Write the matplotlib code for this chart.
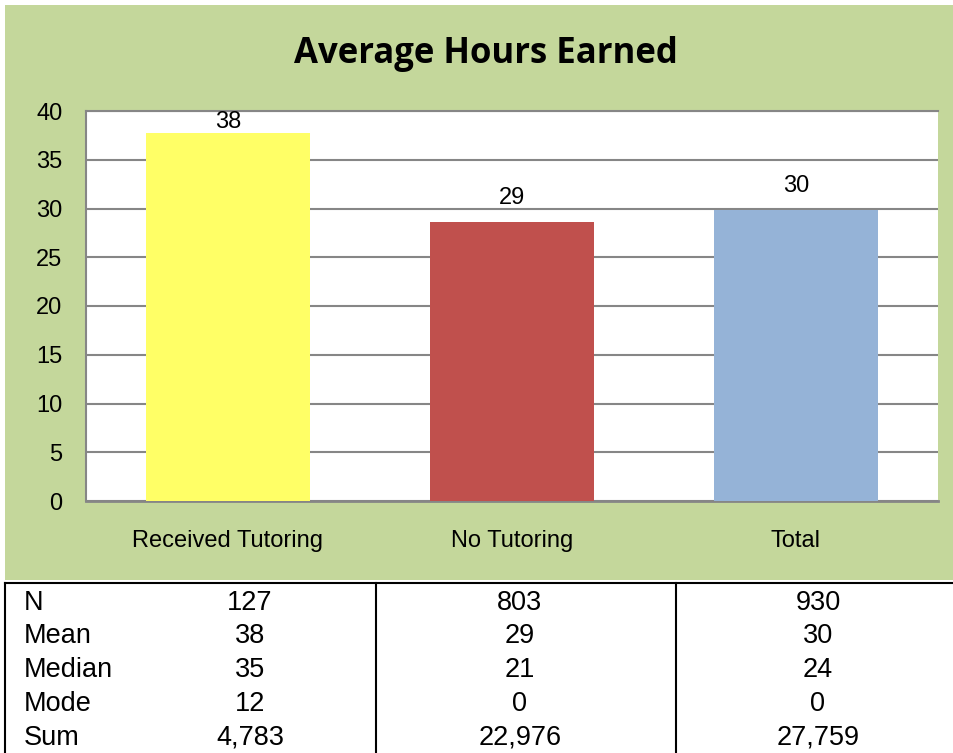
import numpy as np
import matplotlib.pyplot as plt
from matplotlib.patches import Rectangle

groups = ["Received Tutoring", "No Tutoring", "Total"]
means = [37.7, 28.6, 29.8]
mean_labels = ["38", "29", "30"]
bar_colors = ["#FFFF66", "#C0504D", "#95B3D7"]

row_names = ["N", "Mean", "Median", "Mode", "Sum"]
col_received = ["127", "38", "35", "12", "4,783"]
col_none = ["803", "29", "21", "0", "22,976"]
col_total = ["930", "30", "24", "0", "27,759"]

W, H = 954, 753
fig = plt.figure(figsize=(W/100, H/100), dpi=100, facecolor="white")
plt.rcParams['font.family'] = ['Liberation Sans', 'DejaVu Sans']

def fx(px): return px/W
def fy(py): return 1-py/H

# green chart panel
fig.patches.append(Rectangle((fx(5), fy(580)), fx(954)-fx(5), fy(5)-fy(580),
                             transform=fig.transFigure, facecolor="#C4D79B", edgecolor="none", zorder=-5))

fig.text(fx(486), fy(54), "Average Hours Earned", ha="center", va="center",
         fontsize=25, fontweight="bold", family=["Open Sans", "DejaVu Sans"])

ax = fig.add_axes([fx(86), fy(501), fx(938)-fx(86), fy(111)-fy(501)])
ax.set_facecolor("white")
x = np.arange(len(groups))
bars = ax.bar(x, means, width=0.575, color=bar_colors, zorder=3)
for b, lab in zip(bars, mean_labels):
    ly = min(b.get_height() + 2.5, 38.9)   # excel pushes the label inside when it hits the top
    ax.text(b.get_x()+b.get_width()/2, ly, lab, ha="center", va="center", fontsize=17, zorder=5)
ax.set_xlim(-0.5, 2.5)
ax.set_ylim(0, 40)
ax.set_yticks(range(0, 41, 5))
ax.yaxis.grid(True, color="#868686", linewidth=1.5, zorder=0)
ax.set_axisbelow(True)
ax.set_xticks(x)
ax.set_xticklabels(groups)
ax.tick_params(axis="both", length=0, labelsize=17)
ax.tick_params(axis="x", pad=21)
ax.tick_params(axis="y", pad=17)
ax.spines["right"].set_visible(False)
for s in ["left", "top"]:
    ax.spines[s].set_color("#868686")
    ax.spines[s].set_linewidth(1.5)
ax.spines["bottom"].set_color("#868686")
ax.spines["bottom"].set_linewidth(2)

# summary table under the chart
line_kw = dict(color="black", linewidth=1.5, transform=fig.transFigure)
fig.add_artist(plt.Line2D([fx(5), fx(954)], [fy(583), fy(583)], **line_kw))
for vx in [5, 376, 676]:
    fig.add_artist(plt.Line2D([fx(vx), fx(vx)], [fy(583), fy(753)], **line_kw))
row_y = [603, 636, 670, 704, 738]
for i, ry in enumerate(row_y):
    fig.text(fx(24), fy(ry), row_names[i], ha="left", va="center", fontsize=19.5)
    fig.text(fx(250), fy(ry), col_received[i], ha="center", va="center", fontsize=19.5)
    fig.text(fx(520), fy(ry), col_none[i], ha="center", va="center", fontsize=19.5)
    fig.text(fx(818), fy(ry), col_total[i], ha="center", va="center", fontsize=19.5)

fig.savefig("out.png", dpi=100, facecolor="white")
